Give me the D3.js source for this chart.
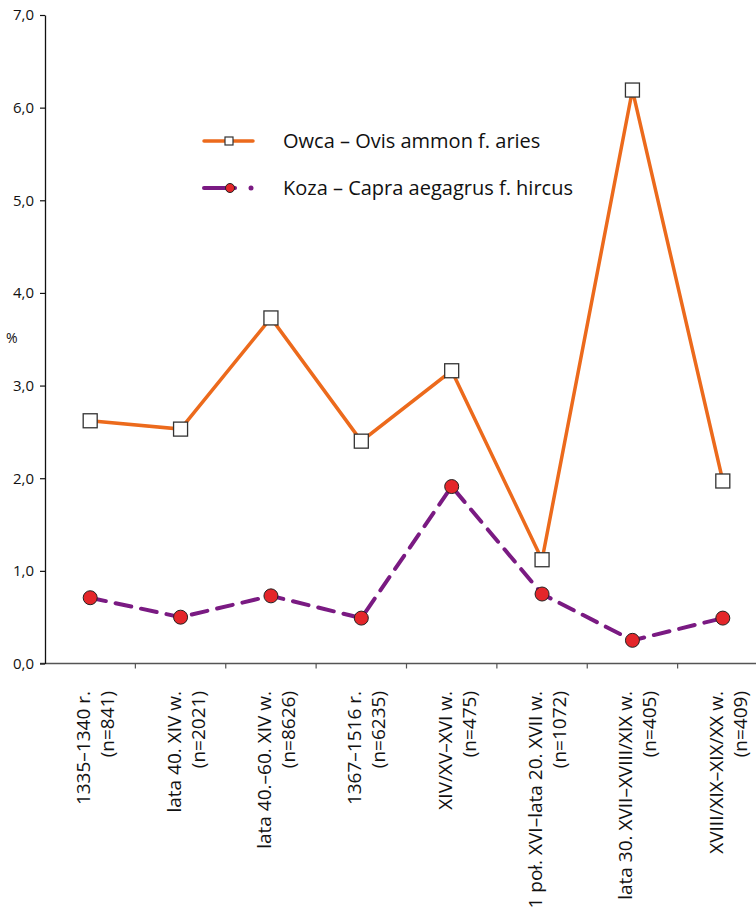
<!DOCTYPE html>
<html><head><meta charset="utf-8">
<script src="https://cdn.jsdelivr.net/npm/d3@7"></script>
<style>body{margin:0;background:#fff}svg{display:block}</style>
</head><body>
<svg id="c" width="756" height="923"></svg>
<script>
const categories = ["1335–1340 r.","lata 40. XIV w.","lata 40.–60. XIV w.","1367–1516 r.","XIV/XV–XVI w.","1 poł. XVI–lata 20. XVII w.","lata 30. XVII–XVIII/XIX w.","XVIII/XIX–XIX/XX w."];
const sampleN = ["(n=841)","(n=2021)","(n=8626)","(n=6235)","(n=475)","(n=1072)","(n=405)","(n=409)"];
const owca = [2.62, 2.53, 3.73, 2.40, 3.16, 1.12, 6.19, 1.97];
const koza = [0.71, 0.50, 0.73, 0.49, 1.91, 0.75, 0.25, 0.49];
const yTicks = [0,1,2,3,4,5,6,7];
const seriesNames = ["Owca – Ovis ammon f. aries","Koza – Capra aegagrus f. hircus"];

const svg = d3.select("#c");
const font = "'Open Sans', sans-serif";
const x = d3.scaleBand().domain(categories).range([45, 768]);
const y = d3.scaleLinear().domain([0,7]).range([663.5, 15]);
const fmt = d => d.toFixed(1).replace(".", ",");

// x axis
const xa = svg.append("g").attr("transform","translate(0,663.5)");
xa.append("line").attr("x1",40).attr("x2",756).attr("stroke","#555").attr("stroke-width",1.3);
xa.selectAll("line.t").data(categories.slice(1)).enter().append("line")
  .attr("x1",d=>x(d)).attr("x2",d=>x(d)).attr("y1",0).attr("y2",5).attr("stroke","#555").attr("stroke-width",1.2);
const lab = svg.append("g");
categories.forEach((c,i)=>{
  const cx = x(c)+x.bandwidth()/2;
  const g = lab.append("g").attr("transform",`translate(${cx},691) rotate(-90)`);
  g.append("text").attr("x",0).attr("y",0).attr("text-anchor","end").attr("font-family",font).attr("font-size",19).attr("fill","#111").text(c);
  g.append("text").attr("x",0).attr("y",24).attr("text-anchor","end").attr("font-family",font).attr("font-size",19).attr("fill","#111").text(sampleN[i]);
});

// y axis
const ya = svg.append("g").attr("transform","translate(45,0)")
  .call(d3.axisLeft(y).tickValues(yTicks).tickFormat(fmt).tickSize(5).tickSizeOuter(0));
ya.select(".domain").attr("stroke","#111").attr("stroke-width",1.3);
ya.selectAll(".tick line").attr("stroke","#111").attr("stroke-width",1.2);
ya.selectAll(".tick text").attr("font-family",font).attr("font-size",15).attr("fill","#111").attr("x",-11);
svg.append("text").attr("x",6).attr("y",343).attr("font-family",font).attr("font-size",14).attr("fill","#111").text("%");

const cx = (d,i)=>x(categories[i])+x.bandwidth()/2;
const line = d3.line().x(cx).y(d=>y(d));
const orange = "#EC6A1C", purple = "#7A1A82", red = "#E4262A";

svg.append("path").datum(owca).attr("d",line).attr("fill","none").attr("stroke",orange).attr("stroke-width",3.5);
svg.append("path").datum(koza).attr("d",line).attr("fill","none").attr("stroke",purple).attr("stroke-width",4).attr("stroke-dasharray","16,10").attr("stroke-linecap","round");

svg.selectAll("rect.o").data(owca).enter().append("rect")
  .attr("x",(d,i)=>cx(d,i)-7).attr("y",d=>y(d)-7).attr("width",14).attr("height",14)
  .attr("fill","#fff").attr("stroke","#333").attr("stroke-width",1.3);
svg.selectAll("circle.k").data(koza).enter().append("circle")
  .attr("cx",cx).attr("cy",d=>y(d)).attr("r",7)
  .attr("fill",red).attr("stroke","#222").attr("stroke-width",1);

// legend
const lg = svg.append("g");
lg.append("line").attr("x1",204).attr("x2",253).attr("y1",141).attr("y2",141).attr("stroke",orange).attr("stroke-width",3.5).attr("stroke-linecap","round");
lg.append("rect").attr("x",225).attr("y",137).attr("width",8).attr("height",8).attr("fill","#fff").attr("stroke","#333").attr("stroke-width",1.2);
lg.append("text").attr("x",283).attr("y",148).attr("font-family",font).attr("font-size",20).attr("fill","#111").text(seriesNames[0]);
lg.append("line").attr("x1",204).attr("x2",235).attr("y1",188).attr("y2",188).attr("stroke",purple).attr("stroke-width",4).attr("stroke-linecap","round");
lg.append("circle").attr("cx",251).attr("cy",188).attr("r",2.5).attr("fill",purple);
lg.append("circle").attr("cx",230).attr("cy",188).attr("r",4.5).attr("fill",red).attr("stroke","#222").attr("stroke-width",1);
lg.append("text").attr("x",283).attr("y",195).attr("font-family",font).attr("font-size",20).attr("fill","#111").text(seriesNames[1]);
</script>
</body></html>
